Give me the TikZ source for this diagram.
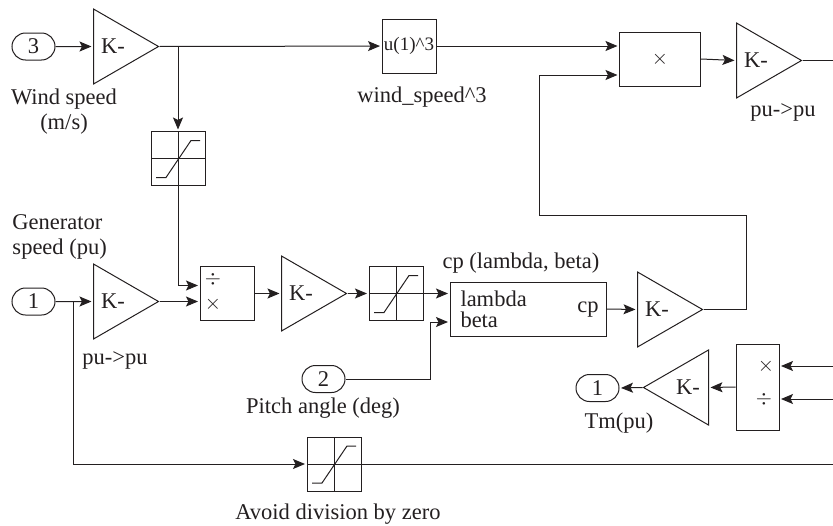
\documentclass[tikz,border=0pt]{standalone}
\usepackage{fontspec}
\setmainfont{Liberation Serif}
\usetikzlibrary{arrows.meta,shapes.geometric,shapes.misc}
\definecolor{ink}{HTML}{231F20}
\begin{document}
\begin{tikzpicture}[x=1pt, y=-1pt, line width=1pt, color=ink,
    every node/.style={inner sep=0pt, font=\fontsize{22.5}{25}\selectfont},
    wire/.style={-{Stealth[length=12pt,width=10pt,inset=2.5pt]}, shorten >=1.5pt},
    port/.style={draw, rounded rectangle, minimum width=43pt, minimum height=27pt},
    gain/.style={draw, isosceles triangle, isosceles triangle apex angle=60,
      isosceles triangle stretches, minimum width=75pt, minimum height=65pt},
    block/.style={draw, minimum width=54pt, minimum height=54pt},
    satbox/.style={block, path picture={
      \begin{scope}[shift={(path picture bounding box.center)}]
        \draw (-27,0)--(27,0) (0,-27)--(0,27);
        \draw (-22,19)--(-12,19)--(13,-18)--(22,-18);
      \end{scope}}}]
  \useasboundingbox (0,0) rectangle (833,525);

  % top row
  \node[port] (p3) at (33.5,46.5) {3};
  \node[gain, anchor=lower side] (g1) at (93,46.5) {};
  \node at (113,46.5) (k1) {K-};
  \node[block, font=\fontsize{19}{22}\selectfont] (u3) at (409,46) {u(1)\textasciicircum 3};
  \node[block, minimum width=81pt] (mul) at (660,59) {$\times$};
  \node[gain, anchor=lower side] (g2) at (736,60.5) {};
  \node at (756,60.5) (k2) {K-};
  \coordinate (out1) at (833,60.5);
  \node[satbox] (sat1) at (178,158.5) {};

  % middle row
  \node[port] (p1) at (33.5,301.5) {1};
  \node[gain, anchor=lower side] (g3) at (93,301.5) {};
  \node at (113,301.5) (k3) {K-};
  \node[block] (dv) at (227,293.5) {};
  \node (dv1) at (213,279) {$\div$};
  \node (dv2) at (213,304) {$\times$};
  \node[gain, anchor=lower side] (g4) at (281,293.5) {};
  \node at (301,293.5) (k4) {K-};
  \node[satbox] (sat2) at (396,293.5) {};
  \node[block, minimum width=156pt] (cp) at (528,309) {};
  \node[anchor=west] (cp1) at (460,299) {lambda};
  \node[anchor=west] (cp2) at (460,319.5) {beta};
  \node (cp3) at (588,310) {cp};
  \node[gain, anchor=lower side] (g5) at (637,309.5) {};
  \node at (657,309.5) (k5) {K-};

  % lower right
  \node[port] (p2) at (323.5,379) {2};
  \node[block, minimum width=43pt, minimum height=86pt] (dv3) at (757.5,387) {};
  \node (dv4) at (766,366) {$\times$};
  \node (dv5) at (764,399) {$\div$};
  \node[gain, shape border rotate=180, anchor=lower side] (g6) at (709,387.5) {};
  \node at (688,387.5) (k6) {K-};
  \node[port] (tm) at (597.5,388) {1};
  \node[satbox] (sat3) at (334,464) {};

  % labels
  \node[align=center] (l1) at (64,112) {Wind speed\\(m/s)};
  \node (l2) at (422,97) {wind\_speed\textasciicircum 3};
  \node (l3) at (783,112) {pu->pu};
  \node[align=left, anchor=west] (l4) at (12,237) {Generator\\speed (pu)};
  \node (l5) at (115,360) {pu->pu};
  \node (l6) at (521,263) {cp (lambda, beta)};
  \node (l7) at (323,408) {Pitch angle (deg)};
  \node (l8) at (619,423) {Tm(pu)};
  \node (l9) at (338,514) {Avoid division by zero};

  % wires
  \coordinate (in1) at (833,366);
  \coordinate (in2) at (833,399);
  \coordinate (out2) at (833,464);
  \draw[wire] (p3) -- (g1.lower side);
  \draw[wire] (g1.apex) -- (u3);
  \draw[wire] (u3) -- (mul.west |- u3);
  \draw[wire] (mul.east) -- (g2.lower side);
  \draw (g2.apex) -- (out1);
  \draw[wire] (178,46.5) -- (sat1.north);
  \draw[wire] (sat1.south) |- ([yshift=8pt]dv.west);
  \draw[wire] (p1) -- (g3.lower side);
  \draw[wire] (g3.apex) -- (dv.west |- g3.apex);
  \draw[wire] (dv.east) -- (g4.lower side);
  \draw[wire] (g4.apex) -- (sat2.west);
  \draw[wire] (sat2.east) -- (cp.west |- sat2.east);
  \draw[wire] (p2.east) -| (430,322) -- (cp.west |- 0,322);
  \draw[wire] (cp.east) -- (g5.lower side);
  \draw[wire] (g5.apex) -| (746,215) -| (539,75) -- (mul.west |- 0,75);
  \draw[wire] (in1) -- (dv3.east |- in1);
  \draw[wire] (in2) -- (dv3.east |- in2);
  \draw[wire] (dv3.west) -- (g6.lower side);
  \draw[wire] (g6.apex) -- (tm.east);
  \draw[wire] (73,301.5) |- (sat3.west);
  \draw (sat3.east) -- (out2);
\end{tikzpicture}
\end{document}
